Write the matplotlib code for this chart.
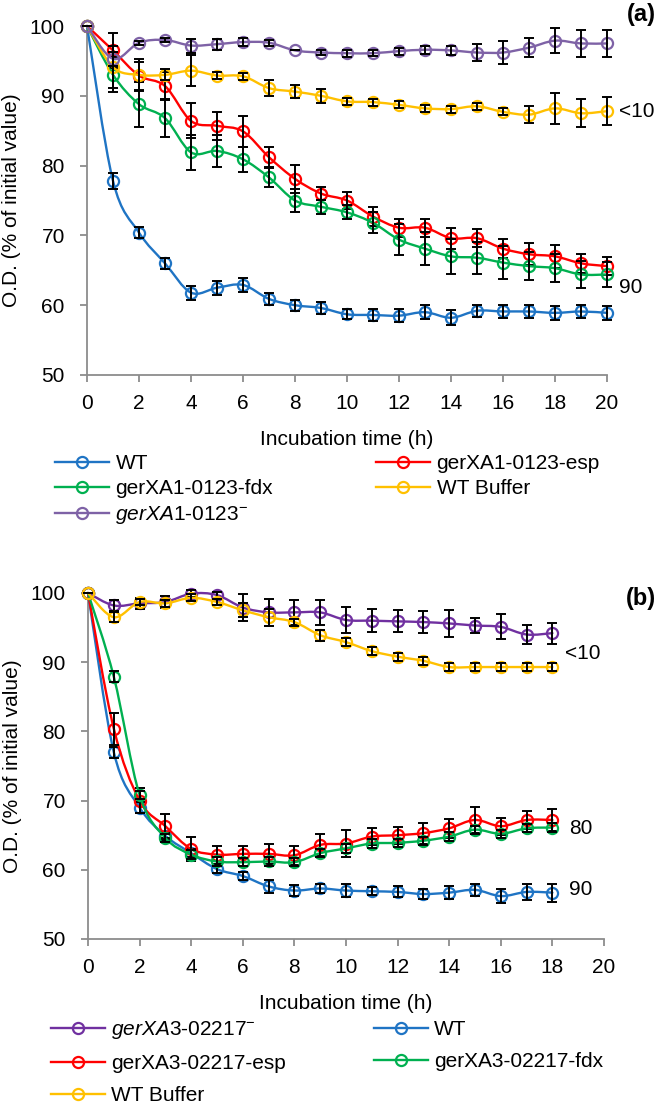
import numpy as np
import matplotlib
matplotlib.use("Agg")
import matplotlib.pyplot as plt
from matplotlib.path import Path
from matplotlib.patches import PathPatch
from matplotlib.lines import Line2D

plt.rcParams['font.family'] = ['Liberation Sans', 'DejaVu Sans']
plt.rcParams['mathtext.fontset'] = 'custom'
plt.rcParams['mathtext.rm'] = 'Liberation Sans'
plt.rcParams['mathtext.it'] = 'Liberation Sans:italic'

# ---------------- Panel (a) data ----------------
time_a = list(range(0, 21))
wt_a = [100, 77.8, 70.4, 66.0, 61.8, 62.5, 62.9, 60.9, 60.0, 59.6, 58.7, 58.6, 58.5, 59.0, 58.2, 59.2, 59.1, 59.1, 58.9, 59.1, 58.9]
wt_a_err = [0, 1.2, 0.8, 0.8, 1.0, 1.0, 1.0, 0.9, 0.8, 0.9, 0.7, 0.9, 0.9, 1.0, 1.1, 0.9, 1.0, 1.0, 1.0, 1.0, 1.0]
esp_a = [100, 96.5, 92.9, 91.4, 86.4, 85.7, 84.9, 81.2, 78.1, 76.0, 75.0, 72.7, 71.1, 71.1, 69.6, 69.6, 68.1, 67.3, 67.0, 66.0, 65.6]
esp_a_err = [0, 2.5, 2.0, 2.0, 2.5, 2.0, 2.2, 1.4, 2.0, 0.9, 1.2, 1.4, 1.3, 1.3, 1.5, 1.3, 1.4, 1.6, 1.6, 1.4, 1.3]
fdx_a = [100, 93.0, 88.8, 86.8, 81.9, 82.1, 80.9, 78.3, 75.0, 74.1, 73.3, 71.8, 69.4, 68.1, 67.0, 66.8, 66.1, 65.6, 65.3, 64.4, 64.4]
fdx_a_err = [0, 2.5, 3.2, 2.7, 2.5, 2.3, 1.8, 1.4, 1.7, 1.0, 1.0, 1.5, 2.2, 2.4, 2.5, 2.3, 2.4, 2.0, 2.0, 1.9, 1.8]
buf_a = [100, 94.1, 93.0, 93.0, 93.6, 92.9, 92.8, 91.1, 90.6, 90.0, 89.2, 89.1, 88.7, 88.2, 88.1, 88.5, 87.7, 87.3, 88.2, 87.5, 87.8]
buf_a_err = [0, 3.0, 2.3, 0.8, 2.2, 0.5, 0.5, 1.2, 0.9, 1.0, 0.5, 0.5, 0.5, 0.5, 0.5, 0.5, 0.5, 1.2, 2.2, 2.0, 2.0]
ko_a = [100, 95.3, 97.6, 98.0, 97.2, 97.4, 97.7, 97.6, 96.5, 96.2, 96.1, 96.1, 96.4, 96.6, 96.5, 96.2, 96.2, 96.9, 97.9, 97.5, 97.5]
ko_a_err = [0, 1.0, 0.3, 0.3, 1.0, 0.8, 0.6, 0.4, 0.0, 0.3, 0.5, 0.4, 0.5, 0.6, 0.6, 1.2, 1.7, 1.4, 1.8, 1.9, 1.9]

# ---------------- Panel (b) data ----------------
time_b = list(range(0, 19))
ko_b = [100, 98.2, 98.5, 98.7, 99.9, 99.7, 97.9, 97.2, 97.2, 97.2, 96.1, 96.0, 95.9, 95.8, 95.6, 95.3, 95.1, 94.0, 94.2]
ko_b_err = [0, 0.8, 0.8, 0.8, 0.5, 0.5, 1.9, 1.9, 1.8, 1.8, 1.9, 1.7, 1.6, 1.6, 2.0, 1.1, 1.8, 1.4, 1.5]
wt_b = [100, 77.0, 69.0, 64.9, 62.4, 60.1, 59.1, 57.6, 57.0, 57.3, 57.0, 56.9, 56.8, 56.5, 56.7, 57.1, 56.2, 56.8, 56.7]
wt_b_err = [0, 0.8, 0.8, 0.6, 0.6, 0.6, 0.6, 0.9, 0.8, 0.7, 0.9, 0.6, 0.8, 0.7, 0.9, 0.9, 1.0, 1.2, 1.3]
esp_b = [100, 80.4, 70.0, 66.3, 63.0, 62.2, 62.3, 62.3, 62.1, 63.6, 63.8, 64.8, 65.0, 65.3, 66.0, 67.2, 66.3, 67.2, 67.2]
esp_b_err = [0, 2.3, 1.8, 1.7, 1.7, 1.3, 1.2, 1.5, 1.4, 1.6, 2.0, 1.2, 1.2, 1.5, 1.4, 1.9, 1.2, 1.3, 1.6]
fdx_b = [100, 87.9, 70.8, 64.6, 62.2, 61.2, 61.1, 61.2, 61.1, 62.4, 63.1, 63.8, 63.9, 64.2, 64.8, 65.8, 65.2, 66.0, 66.1]
fdx_b_err = [0, 0.8, 0.6, 0.6, 0.6, 0.6, 0.6, 0.6, 0.6, 0.6, 0.6, 0.6, 0.6, 0.6, 0.6, 0.6, 0.6, 0.6, 0.6]
buf_b = [100, 96.5, 98.7, 98.5, 99.3, 98.7, 97.5, 96.5, 95.8, 93.9, 92.9, 91.6, 90.8, 90.2, 89.3, 89.3, 89.3, 89.3, 89.3]
buf_b_err = [0, 0.7, 0.5, 0.5, 0.5, 0.5, 1.0, 1.2, 0.5, 0.8, 0.6, 0.6, 0.6, 0.6, 0.6, 0.6, 0.6, 0.6, 0.6]

x_ticks = [0, 2, 4, 6, 8, 10, 12, 14, 16, 18, 20]
y_ticks = [50, 60, 70, 80, 90, 100]

BLUE = '#1F74C4'
RED = '#FF0000'
GREEN = '#00B050'
YELLOW = '#FFC000'
PURPLE_A = '#7E62A6'
PURPLE_B = '#7030A0'

FS = 15


def smooth_path(x, y):
    x = np.asarray(x, float)
    y = np.asarray(y, float)
    n = len(x)
    verts = [(x[0], y[0])]
    codes = [Path.MOVETO]
    for i in range(n - 1):
        i0 = max(i - 1, 0)
        i3 = min(i + 2, n - 1)
        c1 = (x[i] + (x[i + 1] - x[i0]) / 6.0, y[i] + (y[i + 1] - y[i0]) / 6.0)
        c2 = (x[i + 1] - (x[i3] - x[i]) / 6.0, y[i + 1] - (y[i3] - y[i]) / 6.0)
        verts += [c1, c2, (x[i + 1], y[i + 1])]
        codes += [Path.CURVE4] * 3
    return Path(verts, codes)


def draw_series(ax, x, y, err, color, z):
    p = PathPatch(smooth_path(x, y), facecolor='none', edgecolor=color,
                  lw=1.7, zorder=z, capstyle='round', joinstyle='round')
    p.set_clip_on(False)
    ax.add_patch(p)
    ax.plot(x, y, linestyle='none', marker='o', markersize=8, markerfacecolor='none',
            markeredgecolor=color, markeredgewidth=1.6, zorder=z + 0.1, clip_on=False)
    eb = ax.errorbar(x, y, yerr=err, fmt='none', ecolor='black', elinewidth=1.4,
                     capsize=3.6, capthick=1.4, zorder=z + 0.2)
    for art in eb.lines[1] + eb.lines[2]:
        art.set_clip_on(False)


def style_axes(ax):
    ax.set_xlim(0, 20)
    ax.set_ylim(50, 100)
    ax.set_xticks(x_ticks)
    ax.set_yticks(y_ticks)
    for s in ['top', 'right']:
        ax.spines[s].set_visible(False)
    for s in ['left', 'bottom']:
        ax.spines[s].set_color('#8C8C8C')
        ax.spines[s].set_linewidth(1.3)
    ax.tick_params(axis='both', direction='out', length=5, width=1.3, color='#8C8C8C',
                   labelsize=FS, labelcolor='black')
    ax.tick_params(axis='x', pad=9)
    ax.tick_params(axis='y', pad=11)
    ax.set_xlabel('Incubation time (h)', fontsize=FS, labelpad=12)
    ax.set_ylabel('O.D. (% of initial value)', fontsize=FS, labelpad=6)
    for sp in ax.spines.values():
        sp.set_zorder(0.5)


def handle(color):
    return Line2D([], [], color=color, lw=1.7, marker='o', markersize=8,
                  markerfacecolor='none', markeredgecolor=color, markeredgewidth=1.6)


fig = plt.figure(figsize=(6.59, 11.09), dpi=100)
W, H = 659.0, 1109.0

# Panel (a)
ax1 = fig.add_axes([87 / W, 1 - 375 / H, (607 - 87) / W, (375 - 26) / H])
draw_series(ax1, time_a, wt_a, wt_a_err, BLUE, 3)
draw_series(ax1, time_a, esp_a, esp_a_err, RED, 4)
draw_series(ax1, time_a, fdx_a, fdx_a_err, GREEN, 5)
draw_series(ax1, time_a, buf_a, buf_a_err, YELLOW, 6)
draw_series(ax1, time_a, ko_a, ko_a_err, PURPLE_A, 7)
style_axes(ax1)
ax1.text(20.45, 87.7, '<10', fontsize=FS, va='center', ha='left')
ax1.text(20.45, 62.6, '90', fontsize=FS, va='center', ha='left')
fig.text(656 / W, 1 - 15 / H, '(a)', fontsize=17, fontweight='bold', ha='right', va='center')

lab_a = {
    'WT': (BLUE, 'WT'),
    'esp': (RED, 'gerXA1-0123-esp'),
    'fdx': (GREEN, 'gerXA1-0123-fdx'),
    'buf': (YELLOW, 'WT Buffer'),
    'ko': (PURPLE_A, r'$\mathit{gerXA1}$-0123$^{-}$'),
}
order_a = ['WT', 'fdx', 'ko', 'esp', 'buf']
fig.legend([handle(lab_a[k][0]) for k in order_a], [lab_a[k][1] for k in order_a],
           loc='upper left', bbox_to_anchor=(55 / W, 1 - 454 / H), ncol=2, frameon=False,
           fontsize=FS, handlelength=2.6, handletextpad=0.3, columnspacing=4.95,
           labelspacing=0.3, borderpad=0, borderaxespad=0)

# Panel (b)
ax2 = fig.add_axes([88 / W, 1 - 939 / H, (604 - 88) / W, (939 - 593) / H])
draw_series(ax2, time_b, wt_b, wt_b_err, BLUE, 3)
draw_series(ax2, time_b, esp_b, esp_b_err, RED, 4)
draw_series(ax2, time_b, fdx_b, fdx_b_err, GREEN, 5)
draw_series(ax2, time_b, ko_b, ko_b_err, PURPLE_B, 6)
draw_series(ax2, time_b, buf_b, buf_b_err, YELLOW, 7)
style_axes(ax2)
ax2.text(18.5, 91.3, '<10', fontsize=FS, va='center', ha='left')
ax2.text(18.65, 65.9, '80', fontsize=FS, va='center', ha='left')
ax2.text(18.65, 57.1, '90', fontsize=FS, va='center', ha='left')
fig.text(656 / W, 1 - 598 / H, '(b)', fontsize=17, fontweight='bold', ha='right', va='center')

lab_b = {
    'ko': (PURPLE_B, r'$\mathit{gerXA3}$-02217$^{-}$'),
    'WT': (BLUE, 'WT'),
    'esp': (RED, 'gerXA3-02217-esp'),
    'fdx': (GREEN, 'gerXA3-02217-fdx'),
    'buf': (YELLOW, 'WT Buffer'),
}
order_b = ['ko', 'esp', 'buf', 'WT', 'fdx']
fig.legend([handle(lab_b[k][0]) for k in order_b], [lab_b[k][1] for k in order_b],
           loc='upper left', bbox_to_anchor=(51 / W, 1 - 1019 / H), ncol=2, frameon=False,
           fontsize=FS, handlelength=2.6, handletextpad=0.3, columnspacing=4.2,
           labelspacing=0.63, borderpad=0, borderaxespad=0)

fig.savefig('out.png', dpi=100)
